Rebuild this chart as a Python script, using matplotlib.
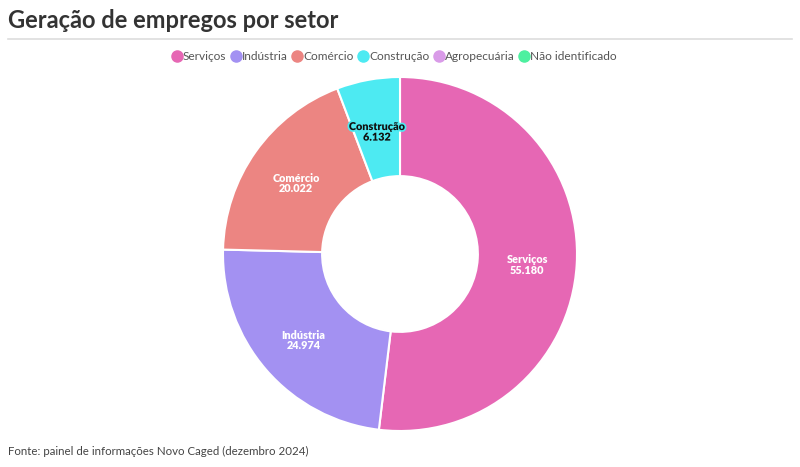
import matplotlib
matplotlib.use("Agg")
import matplotlib.pyplot as plt
import matplotlib.patheffects as pe
from matplotlib.lines import Line2D
import numpy as np

# dados (Novo Caged, dezembro 2024)
setores = ["Serviços", "Indústria", "Comércio", "Construção", "Agropecuária", "Não identificado"]
saldos = [55180, 24974, 20022, 6132, 0, 0]
cores = ["#E667B4", "#A391F2", "#EC8582", "#4DEAF2", "#D99BE8", "#4DF0A0"]
cor_texto = ["white", "white", "white", "#111111", "white", "white"]

plt.rcParams["font.family"] = ["Lato", "DejaVu Sans"]

fig = plt.figure(figsize=(8, 4.67), dpi=100)
W, H = 800, 467

# titulo e linha
fig.text(8 / W, 1 - 20 / H, "Geração de empregos por setor", fontsize=17,
         fontweight="bold", color="#333333", va="center", ha="left")
fig.add_artist(Line2D([8 / W, 792 / W], [1 - 39 / H, 1 - 39 / H],
                      color="#dddddd", lw=1.2))

# so os setores com saldo positivo entram na rosca
vals = [v for v in saldos if v > 0]
cs = [cores[i] for i, v in enumerate(saldos) if v > 0]

cx, cy, r = 400, 254, 177
ax = fig.add_axes([(cx - r) / W, (H - cy - r) / H, 2 * r / W, 2 * r / H])
wedges, _ = ax.pie(vals, colors=cs, startangle=90, counterclock=False,
                   radius=1, wedgeprops=dict(width=0.56, edgecolor="white", linewidth=1.5))
ax.set_xlim(-1, 1)
ax.set_ylim(-1, 1)
ax.set_aspect("equal")
ax.axis("off")

for i, w in enumerate(wedges):
    ang = np.deg2rad((w.theta1 + w.theta2) / 2)
    x, y = 0.72 * np.cos(ang), 0.72 * np.sin(ang) - 0.018
    lbl = "{}\n{}".format(setores[i], f"{saldos[i]:,}".replace(",", "."))
    t = ax.text(x, y, lbl, ha="center", va="center", fontsize=7.8, fontweight="heavy",
                color=cor_texto[i], linespacing=0.95)
    if cor_texto[i] != "white":
        t.set_path_effects([pe.withStroke(linewidth=2.5, foreground=cores[i])])

# legenda
handles = [Line2D([], [], marker="o", ls="", markersize=8, markerfacecolor=c,
                  markeredgecolor=c) for c in cores]
fig.legend(handles, setores, loc="center", bbox_to_anchor=(394 / W, 1 - 57 / H), ncol=6,
           frameon=False, fontsize=8.6, handletextpad=0.0, columnspacing=0.3,
           handlelength=1.0, labelcolor="#555555")

fig.text(8 / W, 1 - 451 / H, "Fonte: painel de informações Novo Caged (dezembro 2024)",
         fontsize=8.3, color="#444444", va="center", ha="left")

fig.savefig("out.png", dpi=100, facecolor="white")
